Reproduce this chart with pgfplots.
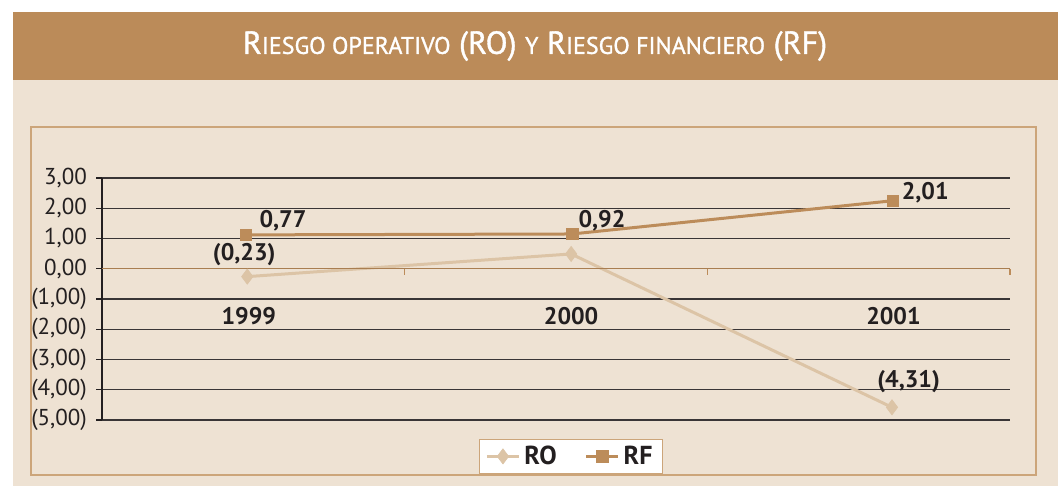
\documentclass[border=0pt]{standalone}
\usepackage{pgfplots}
\pgfplotsset{compat=1.18}
\usepackage{fontspec}
\setmainfont{PT Sans}
\newfontfamily\titlefont[FakeBold=1.2]{PT Sans}
\definecolor{bar}{HTML}{BB8B59}
\definecolor{bg}{HTML}{EEE2D3}
\definecolor{boxc}{HTML}{CCA57A}
\definecolor{rf}{HTML}{BC8C5A}
\definecolor{ro}{HTML}{DCC4A6}
\definecolor{txt}{HTML}{231F20}
\begin{document}
\begin{tikzpicture}[x=0.5pt,y=-0.5pt]
% pixel coordinates (y downward), origin at top-left
\fill[white] (0,0) rectangle (1058,488);
\fill[bg] (13,80) rectangle (1058,486);
\fill[bar] (13,12) rectangle (1058,80);
\node[white,font=\titlefont\fontsize{16}{18}\selectfont] at (535,46)
 {R{\fontsize{12}{14}\selectfont IESGO OPERATIVO} (RO) {\fontsize{12}{14}\selectfont Y} R{\fontsize{12}{14}\selectfont IESGO FINANCIERO} (RF)};
\draw[boxc,line width=0.8pt] (31,127) rectangle (1036,475);
\begin{axis}[
  at={(51pt,-210pt)}, anchor=south west,
  scale only axis, width=454pt, height=121pt,
  xmin=0, xmax=3, ymin=-5, ymax=3,
  axis x line=middle, axis y line=left,
  x axis line style={rf!90!black, line width=0.7pt, -},
  y axis line style={txt, line width=0.7pt, -},
  xtick={0,1,2,3}, xticklabels={},
  ytick={-5,-4,-3,-2,-1,0,1,2,3},
  yticklabels={{(5,00)},{(4,00)},{(3,00)},{(2,00)},{(1,00)},{0,00},{1,00},{2,00},{3,00}},
  tick align=outside, major tick length=3pt,
  x tick style={rf, line width=0.6pt},
  y tick style={txt, line width=0.6pt},
  ymajorgrids, grid style={txt!90, line width=0.7pt},
  yticklabel style={font=\fontsize{11.5}{12}\selectfont, text=txt, xshift=-1pt},
  clip=false,
  legend columns=2,
  legend style={at={(0.5165,-0.0785)}, anchor=north, draw=boxc, line width=0.6pt, fill=white,
    font=\fontsize{13}{13}\selectfont\bfseries, text=txt, inner xsep=3pt, inner ysep=1pt,
    /tikz/every even column/.append style={column sep=12pt}},
  legend image code/.code={\draw[#1] (0pt,0pt) -- (8pt,0pt) -- (16pt,0pt); \path[#1,only marks] plot coordinates {(8pt,0pt)};},
]
\addplot[color=ro, line width=1.5pt, mark=diamond*, mark size=3.8pt, mark options={fill=ro, draw=ro, line width=0.3pt}]
 coordinates {(0.48,-0.26) (1.55,0.49) (2.61,-4.58)};
\addlegendentry{RO}
\addplot[color=rf, line width=1.5pt, mark=square*, mark size=2.9pt, mark options={fill=rf, draw=rf, line width=0.3pt}]
 coordinates {(0.475,1.12) (1.553,1.15) (2.613,2.25)};
\addlegendentry{RF}
\draw[rf!90!black, line width=0.7pt] (axis cs:0,0) -- (axis cs:3,0);
\begin{scope}[every node/.style={font=\fontsize{12}{12}\selectfont\bfseries, text=txt}]
\node at (axis cs:0.598,1.58) {0,77};
\node at (axis cs:0.47,0.46) {(0,23)};
\node at (axis cs:1.652,1.58) {0,92};
\node at (axis cs:2.72,2.51) {2,01};
\node at (axis cs:2.665,-3.73) {(4,31)};
\node at (axis cs:0.485,-1.58) {1999};
\node at (axis cs:1.55,-1.58) {2000};
\node at (axis cs:2.615,-1.58) {2001};
\end{scope}
\end{axis}
\end{tikzpicture}
\end{document}
